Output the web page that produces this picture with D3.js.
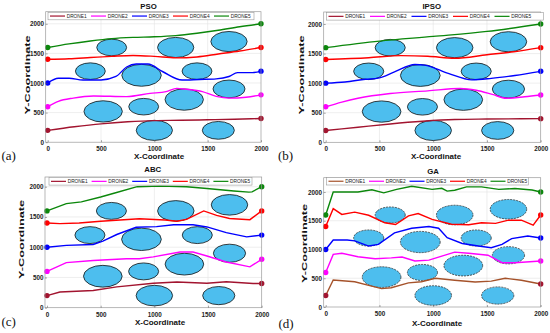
<!DOCTYPE html>
<html>
<head>
<meta charset="utf-8">
<script src="https://cdn.jsdelivr.net/npm/d3@7"></script>
<style>
body {margin: 0; background: #fff;}
svg text {font-family: "Liberation Sans", Arial, sans-serif;}
</style>
</head>
<body>
<svg id="fig" width="550" height="333"></svg>
<script>
const drones = ['DRONE1', 'DRONE2', 'DRONE3', 'DRONE4', 'DRONE5'];
const xTicks = [0, 500, 1000, 1500, 2000];
const yTicks = [0, 500, 1000, 1500, 2000];

// obstacles (same in every panel), data units
const obsX = [600, 1200, 1700, 400, 880, 1400, 1700, 520, 900, 1280, 1000, 1600];
const obsY = [1600, 1600, 1700, 1200, 1130, 1200, 900, 520, 600, 720, 200, 200];
const obsR = [140, 170, 170, 140, 185, 140, 150, 180, 140, 180, 170, 150];

// paths, one array per drone, [x, y]
const psoPaths = [
  [[0,200],[250,260],[500,310],[750,345],[1000,365],[1250,370],[1500,378],[1750,388],[2000,400]],
  [[0,600],[100,690],[240,745],[430,780],[740,770],[960,825],[1110,855],[1210,910],[1300,895],[1450,855],[1580,775],[1700,745],[1860,760],[2000,800]],
  [[0,1000],[100,1080],[200,1080],[330,1050],[500,1050],[640,1110],[740,1270],[830,1320],[940,1320],[1080,1190],[1260,1050],[1420,1060],[1580,1070],[1700,1110],[1780,1175],[1920,1175],[2000,1200]],
  [[0,1400],[200,1410],[400,1430],[600,1450],[800,1465],[1000,1450],[1200,1425],[1400,1440],[1600,1490],[1800,1540],[2000,1600]],
  [[0,1600],[200,1660],[400,1710],[600,1750],[800,1770],[1000,1780],[1200,1800],[1400,1840],[1600,1890],[1800,1950],[2000,2000]]
];
const ipsoPaths = [
  [[0,200],[300,255],[600,310],[900,355],[1200,385],[1500,393],[2000,400]],
  [[0,600],[150,680],[300,745],[600,825],[950,870],[1250,910],[1400,880],[1550,810],[1680,745],[1850,770],[2000,800]],
  [[0,1000],[180,1020],[370,1065],[490,1085],[640,1190],[830,1315],[920,1305],[1140,1165],[1360,1055],[1540,1080],[1760,1130],[2000,1200]],
  [[0,1400],[400,1430],[700,1465],[950,1455],[1200,1420],[1500,1480],[1750,1530],[2000,1600]],
  [[0,1600],[500,1710],[1000,1790],[1500,1875],[2000,2000]]
];
const abcPaths = [
  [[0,200],[120,260],[430,285],[650,345],[990,405],[1210,425],[1490,405],[1670,430],[1920,400],[2000,400]],
  [[0,600],[180,745],[430,780],[740,810],[860,810],[990,840],[1240,920],[1360,920],[1490,855],[1670,755],[1890,675],[2000,800]],
  [[0,1000],[180,1030],[430,1045],[520,1100],[650,1210],[830,1330],[1020,1340],[1180,1370],[1360,1370],[1490,1335],[1670,1240],[1860,1170],[2000,1200]],
  [[0,1400],[120,1390],[300,1400],[500,1430],[860,1470],[1100,1450],[1210,1430],[1300,1460],[1460,1600],[1580,1525],[1700,1475],[1890,1455],[2000,1600]],
  [[0,1600],[180,1720],[320,1750],[500,1830],[640,1900],[840,2000],[1050,2010],[1300,2000],[1490,1970],[1740,1930],[1880,1910],[1910,1915],[2000,2000]]
];
const gaPaths = [
  [[0,200],[70,470],[270,440],[400,375],[520,320],[610,335],[770,420],[890,440],[1020,500],[1200,465],[1390,435],[1540,450],[1670,500],[1820,465],[2000,400]],
  [[0,600],[70,915],[150,935],[300,875],[460,840],[610,855],[710,870],[830,800],[960,815],[1080,885],[1200,955],[1330,935],[1510,900],[1640,770],[1760,770],[2000,800]],
  [[0,1000],[70,1165],[200,1165],[270,1150],[400,1060],[490,1090],[640,1290],[800,1370],[960,1400],[1050,1370],[1130,1205],[1270,1105],[1420,1060],[1540,1030],[1640,1090],[1730,1190],[1880,1235],[2000,1200]],
  [[0,1400],[70,1710],[150,1610],[270,1650],[400,1595],[550,1465],[650,1435],[770,1585],[860,1625],[990,1525],[1170,1440],[1330,1430],[1450,1465],[1580,1455],[1700,1510],[1820,1510],[1930,1425],[2000,1600]],
  [[0,1600],[70,2000],[300,2000],[430,2040],[540,1985],[660,2045],[800,2100],[990,2045],[1080,2065],[1130,2015],[1200,2030],[1310,2090],[1450,2090],[1610,2045],[1760,2060],[1920,2035],[2000,2000]]
];

const colors = ['#a2142f', '#ff00ff', '#0000ff', '#ff0000', '#0b870b'];

const panels = [
  {title: 'PSO', tag: '(a)', paths: psoPaths, curve: d3.curveMonotoneX, c1: '#a2142f',
   left: 45.7, x0: 47.7, x1: 261, y0: 142.2, y1: 23.8, top: 11.7,
   titleX: 148.5, titleY: 9, xlabX: 159, xlabY: 159, ylabX: 27, ylabY: 75,
   tagX: 1.5, tagY: 159.5, legX: 48, legY: 12.3, legW: 206, legP: 41},
  {title: 'IPSO', tag: '(b)', paths: ipsoPaths, curve: d3.curveMonotoneX, c1: '#a2142f',
   left: 323.7, x0: 325.7, x1: 540.7, y0: 142.3, y1: 24, top: 12,
   titleX: 431.7, titleY: 9.3, xlabX: 436, xlabY: 159, ylabX: 301.5, ylabY: 75,
   tagX: 278, tagY: 159.5, legX: 326.5, legY: 12.6, legW: 217, legP: 41.5},
  {title: 'ABC', tag: '(c)', paths: abcPaths, curve: d3.curveLinear, c1: '#a2142f',
   left: 45, x0: 47, x1: 261.7, y0: 307.7, y1: 186.7, top: 177,
   titleX: 152.8, titleY: 171.7, xlabX: 160, xlabY: 325, ylabX: 21.5, ylabY: 239.5,
   tagX: 1.5, tagY: 325.5, legX: 49, legY: 177.6, legW: 203, legP: 40.6},
  {title: 'GA', tag: '(d)', paths: gaPaths, curve: d3.curveLinear, c1: '#a5522a',
   left: 323.7, x0: 325.7, x1: 540.7, y0: 307, y1: 192, top: 177.7,
   titleX: 433, titleY: 173.5, xlabX: 437, xlabY: 326, ylabX: 304, ylabY: 243.5,
   tagX: 278.5, tagY: 327.5, legX: 326.5, legY: 177.5, legW: 202, legP: 40.5}
];

const svg = d3.select('#fig');

function drawPanel(p) {
  const x = d3.scaleLinear().domain([0, 2000]).range([p.x0, p.x1]);
  const y = d3.scaleLinear().domain([0, 2000]).range([p.y0, p.y1]);
  const g = svg.append('g');

  // grid
  g.selectAll('.gx').data(xTicks.slice(1, -1)).enter().append('line')
    .attr('x1', d => x(d)).attr('x2', d => x(d))
    .attr('y1', p.y0).attr('y2', p.top)
    .attr('stroke', '#e3e3e3').attr('stroke-width', 0.6);
  g.selectAll('.gy').data(yTicks.slice(1)).enter().append('line')
    .attr('x1', p.left).attr('x2', p.x1)
    .attr('y1', d => y(d)).attr('y2', d => y(d))
    .attr('stroke', '#e3e3e3').attr('stroke-width', 0.6);

  // obstacles
  g.selectAll('ellipse').data(obsX).enter().append('ellipse')
    .attr('cx', (d, i) => x(d))
    .attr('cy', (d, i) => y(obsY[i]))
    .attr('rx', (d, i) => x(obsR[i]) - x(0))
    .attr('ry', (d, i) => y(0) - y(obsR[i]))
    .attr('fill', '#4dbeee')
    .attr('stroke', p.title === 'GA' ? '#333' : '#111')
    .attr('stroke-width', 0.8)
    .attr('stroke-dasharray', p.title === 'GA' ? '2,1' : null);

  // paths
  const line = d3.line().x(d => x(d[0])).y(d => y(d[1])).curve(p.curve);
  p.paths.forEach((pts, i) => {
    const c = i === 0 ? p.c1 : colors[i];
    g.append('path').attr('d', line(pts))
      .attr('fill', 'none').attr('stroke', c).attr('stroke-width', 1.4);
    [pts[0], pts[pts.length - 1]].forEach(pt => {
      g.append('circle').attr('cx', x(pt[0])).attr('cy', y(pt[1])).attr('r', 2.7)
        .attr('fill', colors[i]);
    });
  });

  // frame
  g.append('rect').attr('x', p.left).attr('y', p.top)
    .attr('width', p.x1 - p.left).attr('height', p.y0 - p.top)
    .attr('fill', 'none').attr('stroke', '#9a9a9a').attr('stroke-width', 0.7);

  // axes
  const fmt = d3.format('d');
  const xAxisG = g.append('g').attr('transform', `translate(0,${p.y0})`)
    .call(d3.axisBottom(x).tickValues(xTicks).tickFormat(fmt).tickSizeInner(-2).tickSizeOuter(0).tickPadding(4.5));
  const yAxisG = g.append('g').attr('transform', `translate(${p.left},0)`)
    .call(d3.axisLeft(y).tickValues(yTicks).tickFormat(fmt).tickSizeInner(-2).tickSizeOuter(0).tickPadding(1.6));
  [xAxisG, yAxisG].forEach(a => {
    a.select('.domain').remove();
    a.selectAll('line').attr('stroke', '#555').attr('stroke-width', 0.5);
    a.selectAll('text').attr('font-size', 6.3).attr('font-weight', 'bold').attr('fill', '#222');
  });

  // titles and labels
  g.append('text').attr('x', p.titleX).attr('y', p.titleY).attr('text-anchor', 'middle')
    .attr('font-size', 7.8).attr('font-weight', 'bold').attr('fill', '#111').text(p.title);
  g.append('text').attr('x', p.xlabX).attr('y', p.xlabY).attr('text-anchor', 'middle')
    .attr('font-size', 8).attr('font-weight', 'bold').attr('fill', '#111').text('X-Coordinate');
  g.append('text').attr('transform', `translate(${p.ylabX},${p.ylabY}) rotate(-90)`)
    .attr('text-anchor', 'middle').attr('font-size', 7.6).attr('font-weight', 'bold').attr('fill', '#111')
    .attr('dy', '0.35em')
    .attr('textLength', 79).attr('lengthAdjust', 'spacingAndGlyphs').text('Y-Coordinate');
  g.append('text').attr('x', p.tagX).attr('y', p.tagY)
    .style('font-family', '"Liberation Serif", "DejaVu Serif", serif')
    .attr('font-size', 13).attr('fill', '#111').text(p.tag);

  // legend
  const lg = g.append('g').attr('transform', `translate(${p.legX},${p.legY})`);
  lg.append('rect').attr('width', p.legW).attr('height', 7.5)
    .attr('fill', '#fff').attr('stroke', '#9a9a9a').attr('stroke-width', 0.6);
  drones.forEach((name, i) => {
    const c = i === 0 ? p.c1 : colors[i];
    lg.append('line').attr('x1', 2 + i * p.legP).attr('x2', 17 + i * p.legP)
      .attr('y1', 3.75).attr('y2', 3.75).attr('stroke', c).attr('stroke-width', 1.2);
    lg.append('text').attr('x', 18.7 + i * p.legP).attr('y', 5.5)
      .attr('font-size', 4.8).attr('fill', '#222').text(name);
  });
}

panels.forEach(drawPanel);
</script>
</body>
</html>
